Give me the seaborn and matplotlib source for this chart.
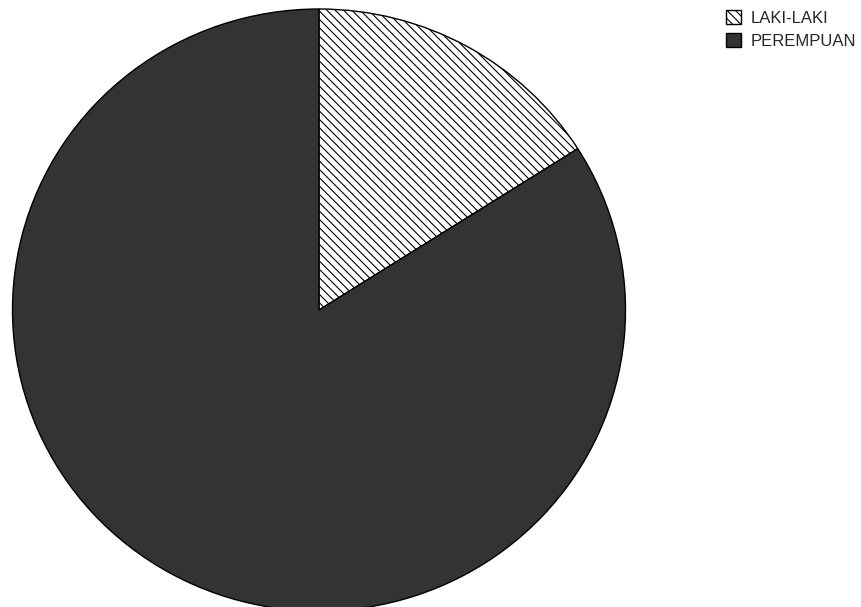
import matplotlib
matplotlib.use("Agg")
import matplotlib.pyplot as plt
import seaborn as sns

# Gender composition
labels = ["LAKI-LAKI", "PEREMPUAN"]
values = [16, 84]

sns.set_theme(style="white")
plt.rcParams["font.family"] = ["Liberation Sans", "DejaVu Sans"]
plt.rcParams["hatch.linewidth"] = 0.8

fill_colors = ["white", "#333333"]
hatches = ["\\\\\\\\", ""]

fig = plt.figure(figsize=(8.62, 6.07), dpi=100)
fig.patch.set_facecolor("white")
ax = fig.add_axes([12.5 / 862, 1 - 611 / 607, 613 / 862, 602 / 607])

wedges, _ = ax.pie(
    values,
    colors=fill_colors,
    startangle=90,
    counterclock=False,
    radius=1.0,
    wedgeprops=dict(edgecolor="black", linewidth=1.0),
)
for w, h in zip(wedges, hatches):
    w.set_hatch(h)
    w.set_clip_on(False)

ax.set_aspect("auto")
ax.set_xlim(-1, 1)
ax.set_ylim(-1, 1)
ax.axis("off")

fig.legend(
    wedges,
    labels,
    loc="upper left",
    bbox_to_anchor=(726 / 862, 1 - 10 / 607),
    bbox_transform=fig.transFigure,
    frameon=False,
    fontsize=12,
    handlelength=0.9,
    handleheight=0.9,
    handletextpad=0.6,
    labelspacing=0.45,
    borderpad=0,
    borderaxespad=0,
)

fig.savefig("out.png", dpi=100)
